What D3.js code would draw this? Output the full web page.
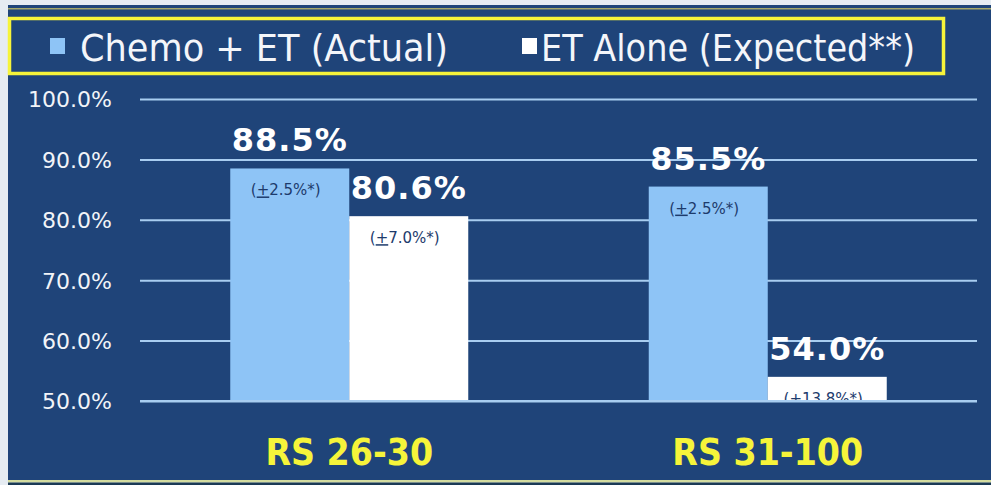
<!DOCTYPE html>
<html>
<head>
<meta charset="utf-8">
<script src="https://cdn.jsdelivr.net/npm/d3@7"></script>
<style>
  html, body { margin: 0; padding: 0; background: #e6ecf2; }
  svg { display: block; }
</style>
</head>
<body>
<svg id="chart" width="991" height="485"></svg>
<script>
// data
const groups = ["RS 26-30", "RS 31-100"];
const seriesNames = ["Chemo + ET (Actual)", "ET Alone (Expected**)"];
const chemoValues = [88.5, 85.5];
const etValues = [80.6, 54.0];
const chemoErrors = ["2.5%*", "2.5%*"];
const etErrors = ["7.0%*", "13.8%*"];
const yTicks = [50, 60, 70, 80, 90, 100];

const W = 991, H = 485;
const svg = d3.select("#chart");

const blue = "#1f4479";
const lightBlue = "#8ec4f6";
const yellow = "#f6f43a";

// panel background
svg.append("rect").attr("x", 8).attr("y", 5).attr("width", W - 8).attr("height", 476).attr("fill", blue);
svg.append("rect").attr("x", 8).attr("y", 8).attr("width", W - 8).attr("height", 1.5).attr("fill", "#a6a86a");
svg.append("rect").attr("x", 8).attr("y", 480).attr("width", W - 8).attr("height", 2.5).attr("fill", "#d4dca0");
svg.append("rect").attr("x", 8).attr("y", 482.5).attr("width", W - 8).attr("height", 3).attr("fill", "#1b3a55");

// scales
const x0 = d3.scaleBand().domain(groups).range([140, 977]).paddingInner(0).paddingOuter(0);
const x1 = d3.scaleBand().domain([0, 1]).range([0, 238]);
const groupOffset = (x0.bandwidth() - 238) / 2;
const y = d3.scaleLinear().domain([50, 100]).range([401, 99]);

// grid
svg.append("g")
    .attr("transform", "translate(140,0)")
    .call(d3.axisLeft(y).tickValues(yTicks).tickSize(-837).tickFormat(""))
    .call(g => g.select(".domain").remove())
    .call(g => g.selectAll("line").attr("stroke", "#a8cdf0").attr("stroke-width", 2));

// y tick labels
svg.append("g")
    .attr("transform", "translate(112,0)")
    .call(d3.axisLeft(y).tickValues(yTicks).tickSize(0).tickPadding(0).tickFormat(d => d.toFixed(1) + "%"))
    .call(g => g.select(".domain").remove())
    .call(g => g.selectAll("text")
        .attr("fill", "#f2f4f8")
        .attr("font-family", "DejaVu Sans")
        .attr("font-size", 22)
        .attr("dy", "0.36em"));

const rows = groups.map((g, i) => [
    { group: g, s: 0, value: chemoValues[i], err: chemoErrors[i] },
    { group: g, s: 1, value: etValues[i], err: etErrors[i] }
]).flat();

const barX = d => x0(d.group) + groupOffset + x1(d.s);

svg.append("defs").append("clipPath").attr("id", "plot")
    .append("rect").attr("x", 0).attr("y", 0).attr("width", W).attr("height", 400);

svg.append("g").selectAll("rect")
    .data(rows)
    .enter()
    .append("rect")
    .attr("x", barX)
    .attr("y", d => y(d.value))
    .attr("width", x1.bandwidth())
    .attr("height", d => y(50) - y(d.value))
    .attr("fill", d => d.s === 0 ? lightBlue : "#ffffff");

// base line over bars
svg.append("line")
    .attr("x1", 140).attr("x2", 977)
    .attr("y1", y(50)).attr("y2", y(50))
    .attr("stroke", "#a8cdf0").attr("stroke-width", 2);

// value labels
svg.append("g").selectAll("text")
    .data(rows)
    .enter()
    .append("text")
    .attr("x", d => barX(d) + x1.bandwidth() / 2)
    .attr("y", d => y(d.value) - 17)
    .attr("text-anchor", "middle")
    .attr("font-family", "DejaVu Sans")
    .attr("font-weight", "bold")
    .attr("font-size", 32)
    .attr("letter-spacing", 1)
    .attr("fill", "#ffffff")
    .text(d => d.value.toFixed(1) + "%");

// error labels
const errText = svg.append("g").attr("clip-path", "url(#plot)").selectAll("text")
    .data(rows)
    .enter()
    .append("text")
    .attr("x", d => barX(d) + x1.bandwidth() / 2 - 4)
    .attr("y", d => y(d.value) + 27)
    .attr("text-anchor", "middle")
    .attr("font-family", "DejaVu Sans")
    .attr("font-size", 15)
    .attr("fill", "#1d3b6c");
errText.append("tspan").text("(");
errText.append("tspan").attr("text-decoration", "underline").text("+");
errText.append("tspan").text(d => d.err + ")");

// category labels
svg.append("g").selectAll("text")
    .data(groups)
    .enter()
    .append("text")
    .attr("x", d => x0(d) + x0.bandwidth() / 2)
    .attr("y", 465)
    .attr("text-anchor", "middle")
    .attr("font-family", "DejaVu Sans Condensed")
    .attr("font-weight", "bold")
    .attr("font-size", 37)
    .attr("fill", yellow)
    .text(d => d);

// legend
svg.append("rect")
    .attr("x", 9.5).attr("y", 18.5).attr("width", 934).attr("height", 55)
    .attr("fill", "none").attr("stroke", yellow).attr("stroke-width", 3.5);

const legendItems = [
    { name: seriesNames[0], color: lightBlue, sx: 50, tx: 80, len: 368 },
    { name: seriesNames[1], color: "#ffffff", sx: 522, tx: 541, len: 374 }
];
legendItems.forEach(it => {
    svg.append("rect").attr("x", it.sx).attr("y", 38).attr("width", 15).attr("height", 16).attr("fill", it.color);
    svg.append("text")
        .attr("x", it.tx).attr("y", 61)
        .attr("font-family", "DejaVu Sans Condensed")
        .attr("font-size", 38)
        .attr("fill", "#f4f6fa")
        .attr("textLength", it.len)
        .attr("lengthAdjust", "spacingAndGlyphs")
        .text(it.name);
});
</script>
</body>
</html>
